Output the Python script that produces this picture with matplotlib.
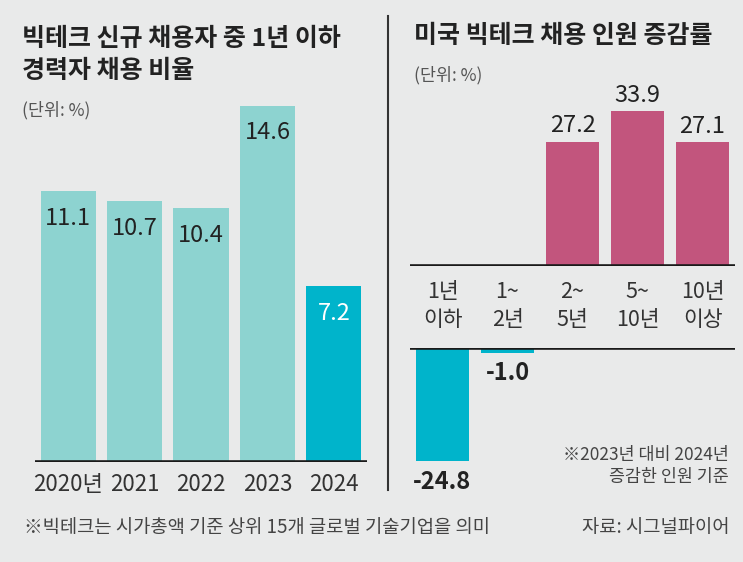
import matplotlib
matplotlib.use("Agg")
import matplotlib.pyplot as plt

plt.rcParams['font.family'] = ['Noto Sans CJK KR', 'DejaVu Sans']

# ---- data ----
left_title = "빅테크 신규 채용자 중 1년 이하\n경력자 채용 비율"
right_title = "미국 빅테크 채용 인원 증감률"
unit_label = "(단위: %)"
years = ["2020년", "2021", "2022", "2023", "2024"]
ratio = [11.1, 10.7, 10.4, 14.6, 7.2]
careers = ["1년\n이하", "1~\n2년", "2~\n5년", "5~\n10년", "10년\n이상"]
change = [-24.8, -1.0, 27.2, 33.9, 27.1]
note_right = "※2023년 대비 2024년\n증감한 인원 기준"
footnote = "※빅테크는 시가총액 기준 상위 15개 글로벌 기술기업을 의미"
source = "자료: 시그널파이어"

W, H = 743, 562
BG = "#e9eaea"
TEAL_L = "#8dd3d0"
TEAL_D = "#00b4cb"
PINK = "#c2557d"
DARK = "#222222"

fig = plt.figure(figsize=(W / 100, H / 100), dpi=100, facecolor=BG)


def rect(x0, y_top, x1, y_bot):
    return [x0 / W, 1 - y_bot / H, (x1 - x0) / W, (y_bot - y_top) / H]


# ---- left chart ----
BL = 462
axL = fig.add_axes(rect(35, BL - 24.4 * 16, 367, BL))
axL.set_facecolor("none")
xs = list(range(len(years)))
colorsL = [TEAL_L] * (len(years) - 1) + [TEAL_D]
axL.bar(xs, ratio, width=0.83, color=colorsL, zorder=2)
axL.set_xlim(-0.5, len(years) - 0.5)
axL.set_ylim(0, 16)
axL.axhline(0, color="#1a1a1a", lw=2.6, zorder=3)
for i, v in enumerate(ratio):
    axL.annotate(f"{v}", (i, v), xytext=(0, -19.5), textcoords="offset points",
                 ha="center", va="center", fontsize=17, fontweight="medium",
                 color="white" if i == len(ratio) - 1 else DARK, zorder=4)
axL.set_xticks(xs, years)
axL.tick_params(axis="x", length=0, pad=8, labelsize=16, labelcolor="#333333")
axL.set_yticks([])
for s in axL.spines.values():
    s.set_visible(False)

# ---- right chart: positive part ----
SC = 4.56
BT = 266
axT = fig.add_axes(rect(410, BT - SC * 40, 735, BT))
axT.set_facecolor("none")
xr = list(range(len(careers)))
pos = [max(v, 0) for v in change]
axT.bar(xr, pos, width=0.81, color=PINK, zorder=2)
axT.set_xlim(-0.5, len(careers) - 0.5)
axT.set_ylim(0, 40)
axT.axhline(0, color="#1a1a1a", lw=2.6, zorder=3)
for i, v in enumerate(change):
    if v > 0:
        axT.annotate(f"{v}", (i, v), xytext=(0, 11.5), textcoords="offset points",
                     ha="center", va="center", fontsize=17, fontweight="medium",
                     color=DARK)
axT.set_xticks(xr, careers)
axT.tick_params(axis="x", length=0, pad=11, labelsize=15.5, labelcolor="#333333")
for lab in axT.get_xticklabels():
    lab.set_linespacing(1.35)
axT.set_yticks([])
for s in axT.spines.values():
    s.set_visible(False)

# ---- right chart: negative part ----
BB = 348
axB = fig.add_axes(rect(410, BB, 735, BB + SC * 30))
axB.set_facecolor("none")
neg = [min(v, 0) for v in change]
axB.bar(xr, neg, width=0.81, color=TEAL_D, zorder=2)
axB.set_xlim(-0.5, len(careers) - 0.5)
axB.set_ylim(-30, 0)
axB.axhline(0, color="#1a1a1a", lw=2.6, zorder=3)
for i, v in enumerate(change):
    if v < 0:
        axB.annotate(f"{v}", (i, v), xytext=(0, -15), textcoords="offset points",
                     ha="center", va="center", fontsize=17, color=DARK,
                     fontweight="bold")
axB.set_xticks([])
axB.set_yticks([])
for s in axB.spines.values():
    s.set_visible(False)

# ---- divider ----
fig.add_artist(plt.Line2D([388 / W, 388 / W], [1 - 16 / H, 1 - 490 / H],
                          color="#333333", lw=1.5))

# ---- texts ----
fig.text(22 / W, 1 - 55 / H, left_title, ha="left", va="center", fontsize=18,
         fontweight="black", color=DARK, linespacing=1.4)
fig.text(22 / W, 1 - 110 / H, unit_label, ha="left", va="center", fontsize=12.5,
         color="#555555")
fig.text(414 / W, 1 - 36 / H, right_title, ha="left", va="center", fontsize=18,
         fontweight="black", color=DARK)
fig.text(414 / W, 1 - 75 / H, unit_label, ha="left", va="center", fontsize=12.5,
         color="#555555")
fig.text(729 / W, 1 - 466 / H, note_right, ha="right", va="center", fontsize=12.5,
         color="#444444", linespacing=1.3)
fig.text(24 / W, 1 - 527 / H, footnote, ha="left", va="center", fontsize=13.5,
         color="#444444")
fig.text(729 / W, 1 - 527 / H, source, ha="right", va="center", fontsize=13.5,
         color="#444444")

fig.savefig("out.png", dpi=100, facecolor=BG)
